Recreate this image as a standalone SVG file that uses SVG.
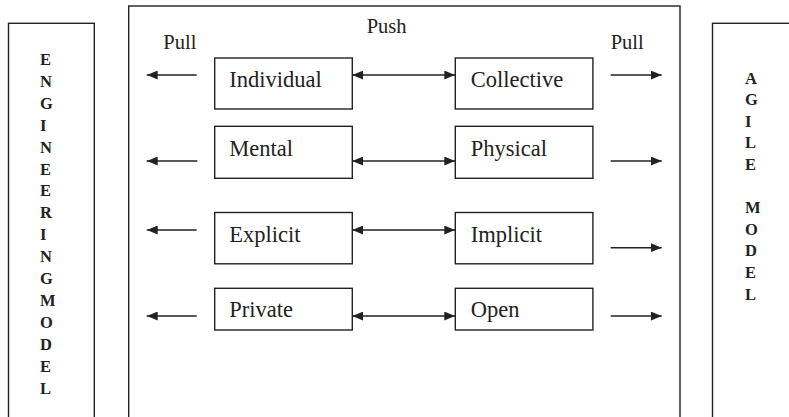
<svg xmlns="http://www.w3.org/2000/svg" width="789" height="417" viewBox="0 0 789 417">
  <defs>
    <marker id="head" viewBox="0 0 11 9" refX="11" refY="4.5" markerWidth="11" markerHeight="9" markerUnits="userSpaceOnUse" orient="auto-start-reverse">
      <path d="M0,0 L11,4.5 L0,9 Z" fill="#222"/>
    </marker>
    <style>
      .frame { fill: #fff; stroke: #222; stroke-width: 1.4; }
      .box { fill: #fff; stroke: #222; stroke-width: 1.4; }
      .lbl { font-family: "Liberation Serif", "Times New Roman", serif; font-size: 22.5px; fill: #222; }
      .dir { font-family: "Liberation Serif", "Times New Roman", serif; font-size: 20.5px; fill: #222; }
      .vert { font-family: "Liberation Serif", "Times New Roman", serif; font-size: 16.5px; font-weight: bold; fill: #222; }
      .arrow { stroke: #222; stroke-width: 1.5; fill: none; }
      .one { marker-end: url(#head); }
      .two { marker-start: url(#head); marker-end: url(#head); }
    </style>
  </defs>

  <rect width="789" height="417" fill="#fff"/>

  <!-- side model frames -->
  <g id="engineering-model">
    <rect class="frame" x="8.5" y="23.3" width="85.8" height="420"/>
    <text class="vert" x="40">
      <tspan x="40" y="65">E</tspan>
      <tspan x="40" y="86.9">N</tspan>
      <tspan x="40" y="108.8">G</tspan>
      <tspan x="40" y="130.7">I</tspan>
      <tspan x="40" y="152.6">N</tspan>
      <tspan x="40" y="174.5">E</tspan>
      <tspan x="40" y="196.4">E</tspan>
      <tspan x="40" y="218.3">R</tspan>
      <tspan x="40" y="240.2">I</tspan>
      <tspan x="40" y="262.1">N</tspan>
      <tspan x="40" y="284">G</tspan>
      <tspan x="40" y="305.9">M</tspan>
      <tspan x="40" y="327.8">O</tspan>
      <tspan x="40" y="349.7">D</tspan>
      <tspan x="40" y="371.6">E</tspan>
      <tspan x="40" y="393.5">L</tspan>
    </text>
  </g>

  <g id="agile-model">
    <rect class="frame" x="712.5" y="23.3" width="100" height="420"/>
    <text class="vert" x="745">
      <tspan x="745" y="83.5">A</tspan>
      <tspan x="745" y="105.1">G</tspan>
      <tspan x="745" y="126.7">I</tspan>
      <tspan x="745" y="148.3">L</tspan>
      <tspan x="745" y="169.9">E</tspan>
      <tspan x="745" y="213.1">M</tspan>
      <tspan x="745" y="234.7">O</tspan>
      <tspan x="745" y="256.3">D</tspan>
      <tspan x="745" y="277.9">E</tspan>
      <tspan x="745" y="299.5">L</tspan>
    </text>
  </g>

  <!-- central knowledge frame -->
  <g id="knowledge-frame">
    <rect class="frame" x="128.7" y="6" width="551.3" height="440"/>
    <text class="dir" x="163.3" y="49">Pull</text>
    <text class="dir" x="366.7" y="33">Push</text>
    <text class="dir" x="610.7" y="49">Pull</text>
  </g>

  <!-- knowledge type pairs -->
  <g id="individual">
    <rect class="box" x="214.7" y="58" width="137.6" height="51"/>
    <text class="lbl" x="229.3" y="86.7">Individual</text>
  </g>
  <g id="collective">
    <rect class="box" x="455.3" y="58" width="137.6" height="51"/>
    <text class="lbl" x="470.7" y="86.7">Collective</text>
  </g>
  <g id="mental">
    <rect class="box" x="214.7" y="126.3" width="137.6" height="52"/>
    <text class="lbl" x="229.3" y="156">Mental</text>
  </g>
  <g id="physical">
    <rect class="box" x="455.3" y="126.3" width="137.6" height="52"/>
    <text class="lbl" x="470.7" y="156">Physical</text>
  </g>
  <g id="explicit">
    <rect class="box" x="214.7" y="212.5" width="137.6" height="51.3"/>
    <text class="lbl" x="229.3" y="241.7">Explicit</text>
  </g>
  <g id="implicit">
    <rect class="box" x="455.3" y="212.5" width="137.6" height="51.3"/>
    <text class="lbl" x="470.7" y="241.7">Implicit</text>
  </g>
  <g id="private">
    <rect class="box" x="214.7" y="288.3" width="137.6" height="41.7"/>
    <text class="lbl" x="229.3" y="316.7">Private</text>
  </g>
  <g id="open">
    <rect class="box" x="455.3" y="288.3" width="137.6" height="41.7"/>
    <text class="lbl" x="470.7" y="316.7">Open</text>
  </g>

  <!-- connectors -->
  <g id="connectors">
    <line class="arrow one" x1="196.7" y1="75" x2="146.7" y2="75"/>
    <line class="arrow two" x1="352.3" y1="75" x2="455.3" y2="75"/>
    <line class="arrow one" x1="610.7" y1="75" x2="661.7" y2="75"/>

    <line class="arrow one" x1="197.3" y1="161" x2="146.7" y2="161"/>
    <line class="arrow two" x1="352.3" y1="161" x2="455.3" y2="161"/>
    <line class="arrow one" x1="610.7" y1="161" x2="661.7" y2="161"/>

    <line class="arrow one" x1="196.7" y1="230" x2="146.7" y2="230"/>
    <line class="arrow two" x1="352.3" y1="230" x2="455.3" y2="230"/>
    <line class="arrow one" x1="610.7" y1="247.7" x2="661.7" y2="247.7"/>

    <line class="arrow one" x1="196.7" y1="316" x2="146.7" y2="316"/>
    <line class="arrow two" x1="352.3" y1="316" x2="455.3" y2="316"/>
    <line class="arrow one" x1="610.7" y1="316" x2="661.7" y2="316"/>
  </g>
</svg>
